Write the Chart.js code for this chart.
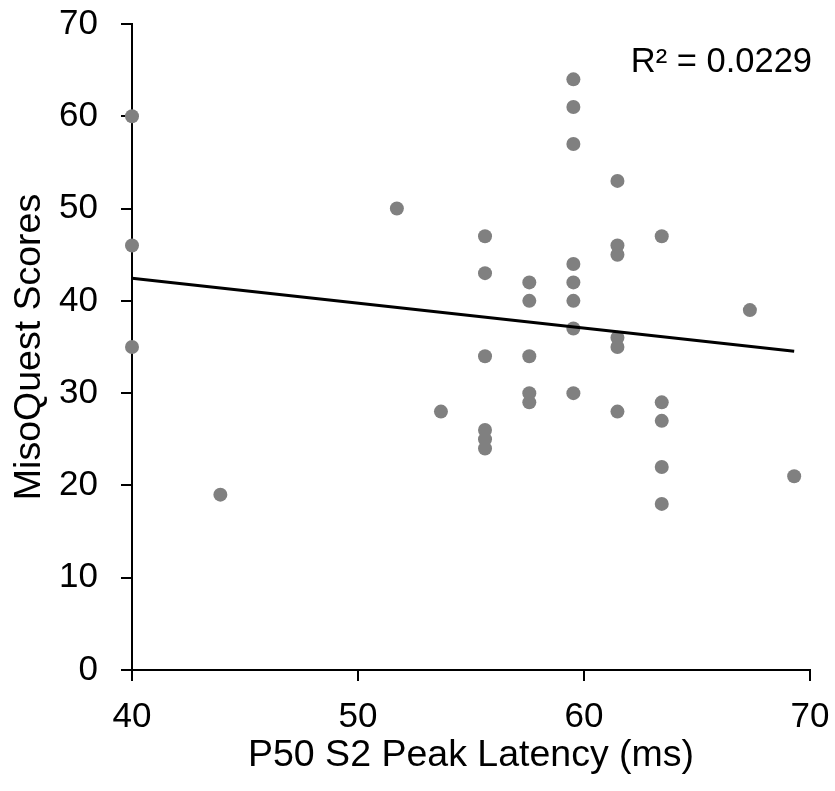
<!DOCTYPE html>
<html>
<head>
<meta charset="utf-8">
<script src="https://cdn.jsdelivr.net/npm/chart.js@4.4.1/dist/chart.umd.min.js"></script>
<style>
  html, body { margin: 0; padding: 0; background: #ffffff; }
  #wrap { width: 835px; height: 791px; }
</style>
</head>
<body>
<div id="wrap"><canvas id="c" width="835" height="791"></canvas></div>
<script>
// ---- data ----
const latencyMs = [
  40, 40, 40,
  43.91,
  51.72,
  53.67,
  55.62, 55.62, 55.62, 55.62, 55.62, 55.62,
  57.58, 57.58, 57.58, 57.58, 57.58,
  59.53, 59.53, 59.53, 59.53, 59.53, 59.53, 59.53, 59.53,
  61.48, 61.48, 61.48, 61.48, 61.48, 61.48,
  63.44, 63.44, 63.44, 63.44, 63.44,
  67.34,
  69.30
];
const misoQuestScores = [
  60, 46, 35,
  19,
  50,
  28,
  47, 43, 34, 26, 25, 24,
  42, 40, 34, 30, 29,
  64, 61, 57, 44, 42, 40, 37, 30,
  53, 46, 45, 36, 35, 28,
  47, 29, 27, 22, 18,
  39,
  21
];
const trendX = [40, 69.3];
const trendY = [42.44, 34.55];
const xTicks = [40, 50, 60, 70];
const yTicks = [0, 10, 20, 30, 40, 50, 60, 70];
const xTitle = 'P50 S2 Peak Latency (ms)';
const yTitle = 'MisoQuest Scores';
const rSquaredText = 'R\u00B2 = 0.0229';

const FONT = "'Liberation Sans', Arial, sans-serif";

const scatterPoints = latencyMs.map((x, i) => ({ x: x, y: misoQuestScores[i] }));
const trendPoints = trendX.map((x, i) => ({ x: x, y: trendY[i] }));

const r2Plugin = {
  id: 'r2label',
  afterDatasetsDraw(chart) {
    const ctx = chart.ctx;
    const area = chart.chartArea;
    ctx.save();
    ctx.font = '34.5px ' + FONT;
    ctx.fillStyle = '#000000';
    ctx.textAlign = 'right';
    ctx.textBaseline = 'alphabetic';
    ctx.fillText(rSquaredText, area.right + 2, 72);
    ctx.restore();
  }
};

new Chart(document.getElementById('c'), {
  type: 'scatter',
  data: {
    datasets: [
      {
        type: 'line',
        data: trendPoints,
        borderColor: '#000000',
        borderWidth: 3,
        pointRadius: 0,
        fill: false,
        order: 0,
        clip: false
      },
      {
        type: 'scatter',
        data: scatterPoints,
        backgroundColor: '#808080',
        borderColor: '#808080',
        borderWidth: 0,
        pointRadius: 7,
        pointHoverRadius: 7,
        order: 1,
        clip: false
      }
    ]
  },
  options: {
    responsive: false,
    animation: false,
    events: [],
    layout: { padding: { top: 24, right: 25, left: 0, bottom: 0 } },
    plugins: { legend: { display: false }, tooltip: { enabled: false } },
    scales: {
      x: {
        type: 'linear',
        min: 40, max: 70,
        afterBuildTicks: s => { s.ticks = xTicks.map(v => ({ value: v })); },
        afterFit: s => { s.height = 121; s.paddingLeft = 0; s.paddingRight = 0; },
        ticks: { color: '#000000', font: { family: FONT, size: 35 }, padding: 15, maxRotation: 0 },
        grid: { display: true, drawOnChartArea: false, drawTicks: true, tickLength: 11, color: '#000000', lineWidth: 2 },
        border: { display: true, color: '#000000', width: 2 },
        title: { display: true, text: xTitle, color: '#000000', font: { family: FONT, size: 37.5 }, padding: { top: 0, bottom: 13 } }
      },
      y: {
        type: 'linear',
        min: 0, max: 70,
        afterBuildTicks: s => { s.ticks = yTicks.map(v => ({ value: v })); },
        afterFit: s => { s.width = 132; s.paddingTop = 0; s.paddingBottom = 0; },
        ticks: { color: '#000000', font: { family: FONT, size: 35 }, padding: 23 },
        grid: { display: true, drawOnChartArea: false, drawTicks: true, tickLength: 11, color: '#000000', lineWidth: 2 },
        border: { display: true, color: '#000000', width: 2 },
        title: { display: true, text: yTitle, color: '#000000', font: { family: FONT, size: 37.5 }, padding: { top: 7, bottom: 0 } }
      }
    }
  },
  plugins: [r2Plugin]
});
</script>
</body>
</html>
